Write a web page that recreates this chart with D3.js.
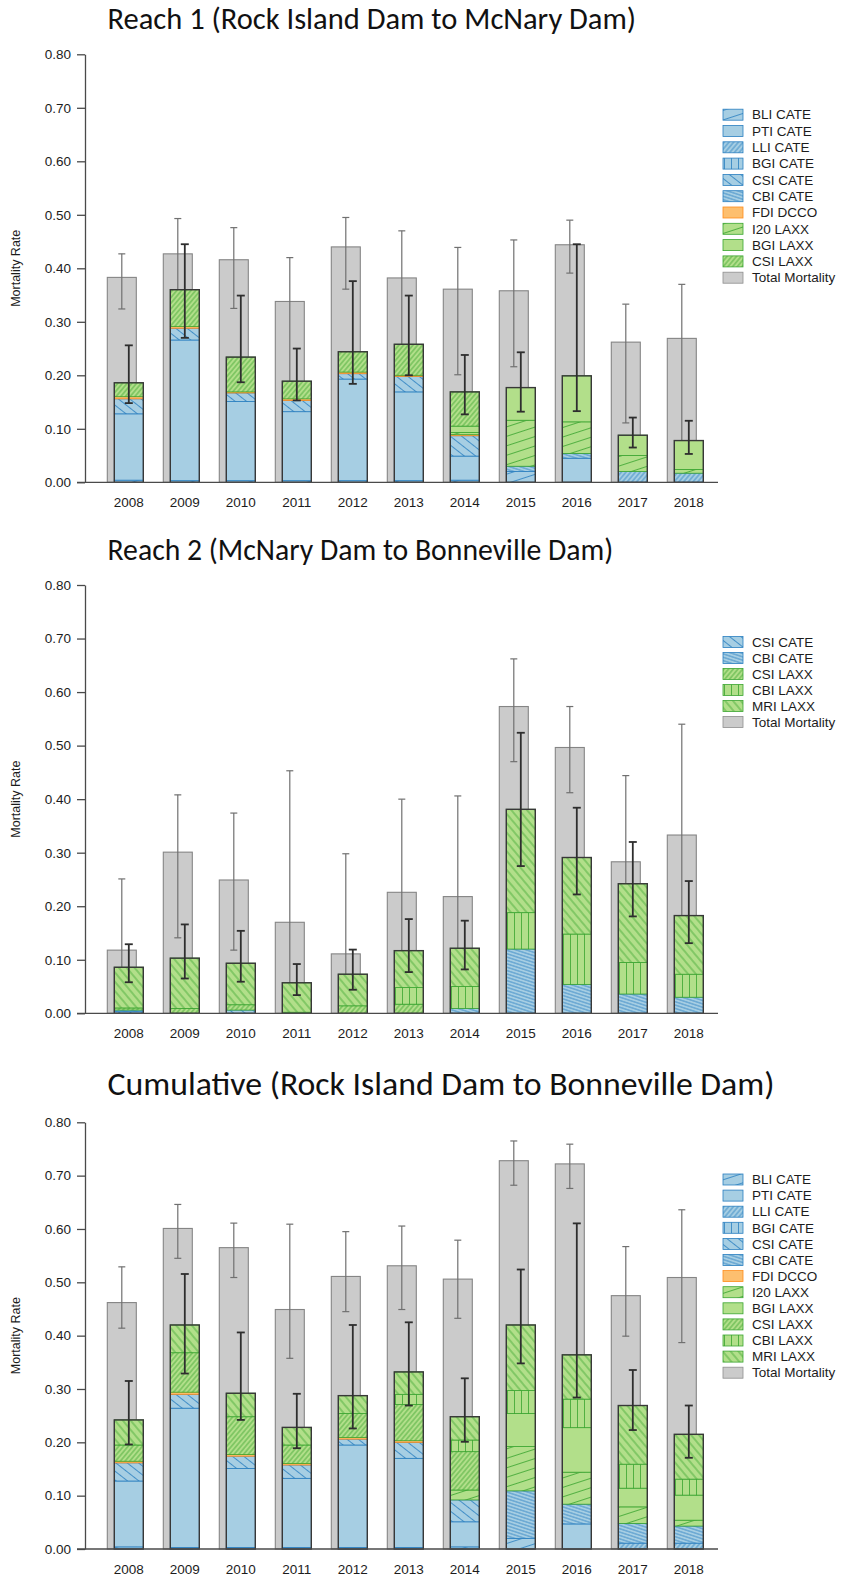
<!DOCTYPE html>
<html><head><meta charset="utf-8">
<script src="https://cdn.jsdelivr.net/npm/d3@7"></script>
<style>body{margin:0;background:#fff} svg{display:block}</style>
</head><body>
<svg id="c" width="842" height="1578"></svg>
<script>
// ---------------- DATA ----------------
const years = [2008, 2009, 2010, 2011, 2012, 2013, 2014, 2015, 2016, 2017, 2018];
const tickValues = [0, 0.1, 0.2, 0.3, 0.4, 0.5, 0.6, 0.7, 0.8];

// Reach 1 components (stack order bottom -> top)
const r1Names = ["BLI CATE","PTI CATE","LLI CATE","BGI CATE","CSI CATE","CBI CATE","FDI DCCO","I20 LAXX","BGI LAXX","CSI LAXX"];
const r1BLI  = [0.004,0.003,0.003,0.003,0.003,0.003,0.004,0.020,0,0,0];
const r1PTI  = [0.124,0.263,0.148,0.129,0.190,0.166,0.045,0,0.045,0,0];
const r1LLI  = [0,0,0,0,0,0,0,0,0,0.020,0.017];
const r1BGI  = [0,0,0,0,0,0,0,0,0,0,0];
const r1CSI  = [0.028,0.022,0.016,0.021,0.010,0.029,0.038,0,0,0,0];
const r1CBI  = [0,0,0,0,0,0,0,0.010,0.009,0,0];
const r1FDI  = [0.004,0.003,0.002,0.003,0.003,0.002,0.002,0,0,0,0];
const r1I20  = [0,0,0,0,0,0,0.004,0.086,0.059,0.030,0.007];
const r1BGIL = [0,0,0,0,0,0,0.012,0.061,0.086,0.038,0.054];
const r1CSIL = [0.026,0.069,0.065,0.033,0.038,0.058,0.064,0,0,0,0];
const r1Total   = [0.383,0.427,0.416,0.338,0.440,0.382,0.361,0.358,0.444,0.262,0.269];
const r1TotLo   = [0.324,0.350,0.325,0.180,0.361,0.250,0.201,0.216,0.391,0.111,0.070];
const r1TotHi   = [0.427,0.493,0.476,0.420,0.495,0.470,0.439,0.453,0.490,0.333,0.370];
const r1CompLo  = [0.148,0.270,0.187,0.153,0.184,0.200,0.127,0.132,0.133,0.065,0.053];
const r1CompHi  = [0.256,0.445,0.349,0.250,0.376,0.349,0.238,0.243,0.445,0.121,0.115];

// Reach 2 components
const r2Names = ["CSI CATE","CBI CATE","CSI LAXX","CBI LAXX","MRI LAXX"];
const r2CSI  = [0.003,0,0.006,0,0,0,0,0,0,0,0];
const r2CBI  = [0.003,0,0,0,0,0,0.009,0.120,0.054,0.036,0.030];
const r2CSIL = [0.004,0.009,0.010,0.002,0.014,0.017,0,0,0,0,0];
const r2CBIL = [0,0,0,0,0,0.031,0.041,0.068,0.094,0.059,0.043];
const r2MRI  = [0.076,0.094,0.0775,0.055,0.059,0.069,0.0715,0.193,0.143,0.147,0.1095];
const r2Total   = [0.118,0.301,0.249,0.170,0.111,0.226,0.218,0.573,0.4965,0.283,0.333];
const r2TotLo   = [0.050,0.141,0.118,0.040,0.020,0.060,0.050,0.470,0.412,0.150,0.130];
const r2TotHi   = [0.251,0.408,0.374,0.453,0.298,0.400,0.406,0.662,0.573,0.444,0.540];
const r2CompLo  = [0.058,0.065,0.059,0.034,0.044,0.077,0.082,0.275,0.222,0.181,0.131];
const r2CompHi  = [0.129,0.166,0.154,0.092,0.119,0.176,0.173,0.524,0.384,0.320,0.247];

// Cumulative components
const cNames = ["BLI CATE","PTI CATE","LLI CATE","BGI CATE","CSI CATE","CBI CATE","FDI DCCO","I20 LAXX","BGI LAXX","CSI LAXX","CBI LAXX","MRI LAXX"];
const cBLI  = [0.004,0.003,0.003,0.003,0.003,0.003,0.004,0.020,0,0,0];
const cPTI  = [0.1235,0.261,0.148,0.1295,0.192,0.167,0.047,0,0.047,0,0];
const cLLI  = [0,0,0,0,0,0,0,0,0,0.011,0.011];
const cBGI  = [0,0,0,0,0,0,0,0,0,0,0];
const cCSI  = [0.034,0.026,0.023,0.025,0.011,0.030,0.041,0,0,0,0];
const cCBI  = [0,0,0,0,0,0,0,0.089,0.037,0.037,0.032];
const cFDI  = [0.003,0.004,0.003,0.003,0.003,0.003,0,0,0,0,0];
const cI20  = [0,0,0,0,0,0,0.0186,0.083,0.060,0.031,0.011];
const cBGIL = [0,0,0,0,0,0,0,0.062,0.0835,0.035,0.047];
const cCSIL = [0.0305,0.074,0.071,0.0345,0.045,0.068,0.0719,0,0,0,0];
const cCBIL = [0,0,0,0,0,0.019,0.0218,0.043,0.0535,0.045,0.030];
const cMRI  = [0.047,0.052,0.044,0.033,0.0335,0.042,0.0437,0.123,0.083,0.110,0.084];
const cTotal   = [0.462,0.601,0.565,0.449,0.511,0.531,0.506,0.728,0.722,0.475,0.509];
const cTotLo   = [0.414,0.545,0.509,0.3575,0.445,0.449,0.4325,0.682,0.676,0.399,0.387];
const cTotHi   = [0.529,0.646,0.611,0.609,0.595,0.6055,0.579,0.765,0.759,0.567,0.636];
const cCompLo  = [0.196,0.329,0.242,0.189,0.226,0.269,0.201,0.348,0.284,0.223,0.171];
const cCompHi  = [0.315,0.5156,0.406,0.291,0.420,0.425,0.320,0.524,0.6105,0.3356,0.269];

const titles = ["Reach 1 (Rock Island Dam to McNary Dam)",
                "Reach 2 (McNary Dam to Bonneville Dam)",
                "Cumulative (Rock Island Dam to Bonneville Dam)"];

// ---------------- STYLE ----------------
const BF = "#a6cee3", BL = "#2a7fc0", GF = "#b2df8a", GL = "#3aa530", OF = "#fdbf6f", OL = "#ff8c1a";
const seriesStyle = {
  "BLI CATE": {fill: BF, line: BL, angle: 18,  gap: 9},
  "PTI CATE": {fill: BF, line: BL},
  "LLI CATE": {fill: BF, line: BL, angle: 50,  gap: 3.6},
  "BGI CATE": {fill: BF, line: BL, angle: 90,  gap: 7},
  "CSI CATE": {fill: BF, line: BL, angle: -38, gap: 7},
  "CBI CATE": {fill: BF, line: BL, angle: -18, gap: 3.2},
  "FDI DCCO": {fill: OF, line: OL},
  "I20 LAXX": {fill: GF, line: GL, angle: 18,  gap: 9},
  "BGI LAXX": {fill: GF, line: GL},
  "CSI LAXX": {fill: GF, line: GL, angle: 50,  gap: 3.6},
  "CBI LAXX": {fill: GF, line: GL, angle: 90,  gap: 7},
  "MRI LAXX": {fill: GF, line: GL, angle: -50, gap: 6},
  "Total Mortality": {fill: "#cbcbcb", line: "#8e8e8e"}
};
const FONT = "'Liberation Sans', Arial, Helvetica, sans-serif";
const TEXTC = "#1c1c1c";

const svg = d3.select("#c");
const defs = svg.append("defs");
const pid = n => "p_" + n.replace(/\s+/g, "_");
Object.entries(seriesStyle).forEach(([name, st]) => {
  if (st.angle === undefined) return;
  const p = defs.append("pattern").attr("id", pid(name))
    .attr("patternUnits", "userSpaceOnUse")
    .attr("width", 10).attr("height", st.gap)
    .attr("patternTransform", `rotate(${-st.angle})`);
  p.append("rect").attr("width", 10).attr("height", st.gap).attr("fill", st.fill);
  p.append("line").attr("x1", -1).attr("x2", 11).attr("y1", st.gap / 2).attr("y2", st.gap / 2)
    .attr("stroke", st.line).attr("stroke-width", 0.8);
});
const fillOf = name => seriesStyle[name].angle === undefined ? seriesStyle[name].fill : `url(#${pid(name)})`;

const panels = [
  {title: titles[0], titleY: 28.5, titleW: 529, yBottom: 482.3, yTop: 54.3, legendY: 114.7, legendStep: 16.3,
   names: r1Names, values: [r1BLI,r1PTI,r1LLI,r1BGI,r1CSI,r1CBI,r1FDI,r1I20,r1BGIL,r1CSIL],
   total: r1Total, totLo: r1TotLo, totHi: r1TotHi, compLo: r1CompLo, compHi: r1CompHi},
  {title: titles[1], titleY: 559.5, titleW: 506, yBottom: 1013.3, yTop: 585, legendY: 642, legendStep: 16,
   names: r2Names, values: [r2CSI,r2CBI,r2CSIL,r2CBIL,r2MRI],
   total: r2Total, totLo: r2TotLo, totHi: r2TotHi, compLo: r2CompLo, compHi: r2CompHi},
  {title: titles[2], titleY: 1095, titleW: 667, yBottom: 1549, yTop: 1122.3, legendY: 1179.5, legendStep: 16.1,
   names: cNames, values: [cBLI,cPTI,cLLI,cBGI,cCSI,cCBI,cFDI,cI20,cBGIL,cCSIL,cCBIL,cMRI],
   total: cTotal, totLo: cTotLo, totHi: cTotHi, compLo: cCompLo, compHi: cCompHi}
];

const x = d3.scaleBand().domain(years).range([107.3, 703.3]).paddingInner(20 / 56).paddingOuter(0);
const barW = 29, shift = 7;
const axisX = 85;

panels.forEach(P => {
  const g = svg.append("g");
  const y = d3.scaleLinear().domain([0, 0.8]).range([P.yBottom, P.yTop]);

  // title
  const t = g.append("text").attr("x", 107.5).attr("y", P.titleY)
    .attr("font-family", "Carlito, Calibri, Lato, 'Open Sans', sans-serif")
    .attr("font-size", 26).attr("fill", "#111").text(P.title);
  const len = t.node().getComputedTextLength();
  t.attr("font-size", 26 * P.titleW / len);

  // y axis
  const ax = g.append("g").attr("transform", `translate(${axisX},0)`)
    .call(d3.axisLeft(y).tickValues(tickValues).tickFormat(d3.format(".2f")).tickSize(8).tickSizeOuter(0).tickPadding(6));
  ax.select(".domain").attr("stroke", "#4a4a4a").attr("stroke-width", 1.3);
  ax.selectAll(".tick line").attr("stroke", "#4a4a4a").attr("stroke-width", 1.3);
  ax.selectAll(".tick text").attr("font-family", FONT).attr("font-size", 13.5).attr("fill", TEXTC);

  // y title
  g.append("text").attr("transform", `translate(20,${(P.yBottom + P.yTop) / 2}) rotate(-90)`)
    .attr("text-anchor", "middle").attr("font-family", FONT).attr("font-size", 12.5)
    .attr("fill", TEXTC).text("Mortality Rate");

  // gray total bars
  g.selectAll(".tot").data(years).join("rect")
    .attr("x", d => x(d)).attr("width", barW)
    .attr("y", (d, i) => y(P.total[i])).attr("height", (d, i) => y(0) - y(P.total[i]))
    .attr("fill", seriesStyle["Total Mortality"].fill).attr("stroke", "#858585").attr("stroke-width", 1.1);

  // gray error bars
  const ge = g.selectAll(".ge").data(years).join("g").attr("stroke", "#707070").attr("stroke-width", 1.2);
  ge.append("line").attr("x1", d => x(d) + barW / 2).attr("x2", d => x(d) + barW / 2)
    .attr("y1", (d, i) => y(P.totLo[i])).attr("y2", (d, i) => y(P.totHi[i]));
  ge.append("line").attr("x1", d => x(d) + barW / 2 - 3.5).attr("x2", d => x(d) + barW / 2 + 3.5)
    .attr("y1", (d, i) => y(P.totHi[i])).attr("y2", (d, i) => y(P.totHi[i]));
  ge.append("line").attr("x1", d => x(d) + barW / 2 - 3.5).attr("x2", d => x(d) + barW / 2 + 3.5)
    .attr("y1", (d, i) => y(P.totLo[i])).attr("y2", (d, i) => y(P.totLo[i]));

  // stacked components
  const table = years.map((yr, i) => {
    const row = {year: yr};
    P.names.forEach((n, k) => row[n] = P.values[k][i]);
    return row;
  });
  const stacked = d3.stack().keys(P.names)(table);
  stacked.forEach(layer => {
    const st = seriesStyle[layer.key];
    g.append("g").selectAll("rect").data(layer.filter(d => d[1] - d[0] > 0)).join("rect")
      .attr("x", d => x(d.data.year) + shift).attr("width", barW)
      .attr("y", d => y(d[1])).attr("height", d => y(d[0]) - y(d[1]))
      .attr("fill", fillOf(layer.key)).attr("stroke", st.line).attr("stroke-width", 0.8);
  });
  // outline of stacks
  const tops = stacked[stacked.length - 1];
  g.append("g").selectAll("rect").data(tops).join("rect")
    .attr("x", d => x(d.data.year) + shift).attr("width", barW)
    .attr("y", d => y(d[1])).attr("height", d => y(0) - y(d[1]))
    .attr("fill", "none").attr("stroke", "#383838").attr("stroke-width", 1.4);

  // component error bars
  const ce = g.selectAll(".ce").data(years).join("g").attr("stroke", "#2e2e2e").attr("stroke-width", 1.8);
  const cx = d => x(d) + shift + barW / 2;
  ce.append("line").attr("x1", cx).attr("x2", cx)
    .attr("y1", (d, i) => y(P.compLo[i])).attr("y2", (d, i) => y(P.compHi[i]));
  ce.append("line").attr("x1", d => cx(d) - 4).attr("x2", d => cx(d) + 4)
    .attr("y1", (d, i) => y(P.compHi[i])).attr("y2", (d, i) => y(P.compHi[i]));
  ce.append("line").attr("x1", d => cx(d) - 4).attr("x2", d => cx(d) + 4)
    .attr("y1", (d, i) => y(P.compLo[i])).attr("y2", (d, i) => y(P.compLo[i]));

  // x baseline
  g.append("line").attr("x1", 77).attr("x2", 718).attr("y1", y(0)).attr("y2", y(0))
    .attr("stroke", "#4a4a4a").attr("stroke-width", 1.3);
  // year labels
  g.selectAll(".yl").data(years).join("text")
    .attr("x", d => x(d) + shift + barW / 2).attr("y", y(0) + 25)
    .attr("text-anchor", "middle").attr("font-family", FONT).attr("font-size", 13.5)
    .attr("fill", TEXTC).text(d => d);

  // legend
  const legNames = P.names.concat(["Total Mortality"]);
  const lg = g.append("g");
  legNames.forEach((n, k) => {
    const ry = P.legendY + k * P.legendStep;
    lg.append("rect").attr("x", 723).attr("y", ry - 5.5).attr("width", 20).attr("height", 11)
      .attr("fill", fillOf(n)).attr("stroke", seriesStyle[n].line).attr("stroke-width", 0.8);
    lg.append("text").attr("x", 752).attr("y", ry).attr("dy", "0.35em")
      .attr("font-family", FONT).attr("font-size", 13.5).attr("fill", TEXTC).text(n);
  });
});
</script>
</body></html>
